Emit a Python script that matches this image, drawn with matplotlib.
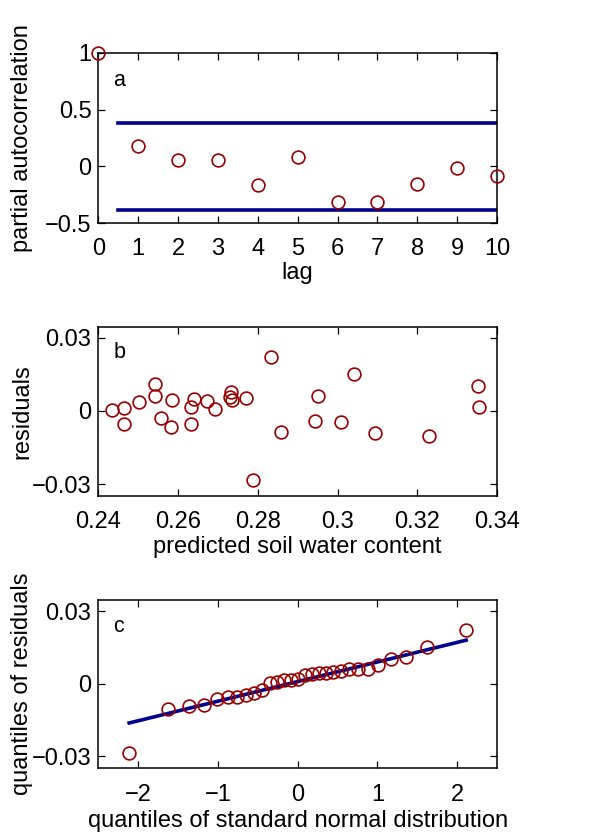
import matplotlib
matplotlib.use("Agg")
import matplotlib.pyplot as plt

plt.rcParams['font.family'] = ['Liberation Sans', 'DejaVu Sans']
plt.rcParams['axes.unicode_minus'] = True

# panel a: partial autocorrelation
lags = [0, 1, 2, 3, 4, 5, 6, 7, 8, 9, 10]
pacf = [1.0, 0.179, 0.056, 0.053, -0.165, 0.082, -0.315, -0.315, -0.156, -0.012, -0.088]
bound_x = [0.5, 10]
bound_hi = 0.386
bound_lo = -0.382

# panel b: residuals vs predicted
predicted = [0.2435, 0.2464, 0.2463, 0.2502, 0.2541, 0.2541, 0.2557, 0.2585, 0.2582,
             0.2633, 0.2639, 0.2633, 0.2673, 0.2693, 0.2732, 0.2730, 0.2736, 0.2770,
             0.2832, 0.2787, 0.2857, 0.2944, 0.2950, 0.3010, 0.3042, 0.3095, 0.3230,
             0.3352, 0.3355]
residuals = [0.0004, 0.0014, -0.0055, 0.0038, 0.0110, 0.0063, -0.0027, 0.0044, -0.0064,
             0.0018, 0.0048, -0.0053, 0.0041, 0.0008, 0.0077, 0.0059, 0.0045, 0.0052,
             0.0223, -0.0284, -0.0088, -0.0040, 0.0062, -0.0047, 0.0151, -0.0090, -0.0104,
             0.0103, 0.0015]

# panel c: normal quantile plot
qq_x = [-2.114, -1.628, -1.365, -1.172, -1.014, -0.879, -0.758, -0.648, -0.544, -0.447,
        -0.353, -0.262, -0.174, -0.087, 0.0, 0.087, 0.174, 0.262, 0.353, 0.447,
        0.544, 0.648, 0.758, 0.879, 1.014, 1.172, 1.365, 1.628, 2.114]
qq_y = [-0.0284, -0.0104, -0.0090, -0.0088, -0.0064, -0.0055, -0.0053, -0.0047, -0.0040,
        -0.0027, 0.0004, 0.0008, 0.0014, 0.0015, 0.0018, 0.0038, 0.0041, 0.0044, 0.0045,
        0.0048, 0.0052, 0.0059, 0.0062, 0.0063, 0.0077, 0.0103, 0.0110, 0.0151, 0.0223]
qq_line_x = [-2.114, 2.114]
qq_line_y = [-0.0162, 0.0180]

red = '#9b0000'
navy = '#00008c'
fs = 17
mk = dict(marker='o', ms=9.2, mfc='none', mec=red, mew=1.2, ls='none', clip_on=False, zorder=5)

def style(ax, xlab_y):
    ax.tick_params(direction='in', length=5, width=0.9, top=True, right=True,
                   labelsize=fs)
    ax.tick_params(axis='x', pad=11)
    ax.tick_params(axis='y', pad=5)
    for s in ax.spines.values():
        s.set_linewidth(1.1)
    ax.yaxis.set_label_coords(-0.163, 0.5)
    ax.xaxis.set_label_coords(0.5, xlab_y)

fig = plt.figure(figsize=(6.15, 8.34), dpi=100)

ax1 = fig.add_axes([0.160, 0.7326, 0.648, 0.2039])
ax1.plot(lags, pacf, **mk)
ax1.plot(bound_x, [bound_hi, bound_hi], color=navy, lw=2.6)
ax1.plot(bound_x, [bound_lo, bound_lo], color=navy, lw=2.6)
ax1.set_xlim(0, 10)
ax1.set_ylim(-0.5, 1)
ax1.set_xticks(lags)
ax1.set_xticklabels([str(v) for v in lags])
ax1.set_yticks([-0.5, 0, 0.5, 1])
ax1.set_yticklabels(['\u22120.5', '0', '0.5', '1'])
ax1.set_xlabel('lag', fontsize=fs)
ax1.set_ylabel('partial autocorrelation', fontsize=fs)
ax1.text(0.037, 0.84, 'a', transform=ax1.transAxes, fontsize=15.5, va='center')
style(ax1, -0.232)

ax2 = fig.add_axes([0.160, 0.4053, 0.648, 0.2030])
ax2.plot(predicted, residuals, **mk)
ax2.set_xlim(0.24, 0.34)
ax2.set_ylim(-0.0349, 0.0346)
xt = [0.24, 0.26, 0.28, 0.30, 0.32, 0.34]
ax2.set_xticks(xt)
ax2.set_xticklabels(['0.24', '0.26', '0.28', '0.3', '0.32', '0.34'])
ax2.set_yticks([-0.03, 0, 0.03])
ax2.set_yticklabels(['\u22120.03', '0', '0.03'])
ax2.set_xlabel('predicted soil water content', fontsize=fs)
ax2.set_ylabel('residuals', fontsize=fs)
ax2.text(0.037, 0.845, 'b', transform=ax2.transAxes, fontsize=15.5, va='center')
style(ax2, -0.238)

ax3 = fig.add_axes([0.160, 0.0788, 0.648, 0.2018])
ax3.plot(qq_line_x, qq_line_y, color=navy, lw=2.6, zorder=3)
ax3.plot(qq_x, qq_y, **mk)
ax3.set_xlim(-2.5, 2.5)
ax3.set_ylim(-0.0349, 0.0346)
ax3.set_xticks([-2, -1, 0, 1, 2])
ax3.set_xticklabels(['\u22122', '\u22121', '0', '1', '2'])
ax3.set_yticks([-0.03, 0, 0.03])
ax3.set_yticklabels(['\u22120.03', '0', '0.03'])
ax3.set_xlabel('quantiles of standard normal distribution', fontsize=fs)
ax3.set_ylabel('quantiles of residuals', fontsize=fs)
ax3.text(0.037, 0.84, 'c', transform=ax3.transAxes, fontsize=15.5, va='center')
style(ax3, -0.245)

fig.savefig('out.png', dpi=100)
